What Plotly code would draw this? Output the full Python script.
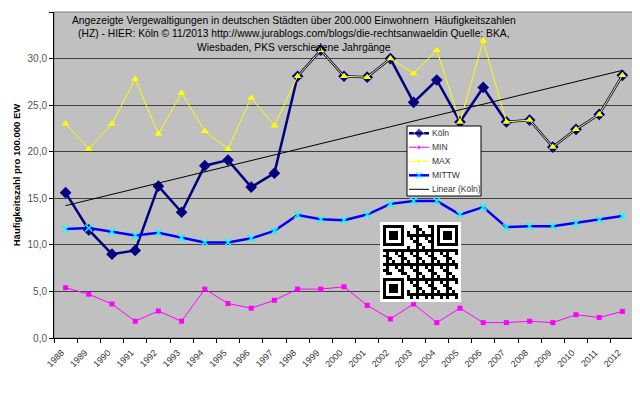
import numpy as np
import plotly.graph_objects as go

years = [str(y) for y in range(1988, 2013)]
koeln = [15.6, 11.6, 9.0, 9.4, 16.3, 13.5, 18.5, 19.1, 16.2, 17.7, 28.1, 30.9, 28.1,
         28.0, 30.0, 25.3, 27.7, 23.2, 26.9, 23.2, 23.4, 20.5, 22.4, 24.0, 28.2]
mn = [5.4, 4.7, 3.65, 1.8, 2.9, 1.8, 5.25, 3.7, 3.2, 4.05, 5.25, 5.25, 5.5,
      3.5, 2.05, 3.65, 1.65, 3.2, 1.65, 1.65, 1.8, 1.65, 2.5, 2.2, 2.85]
mx = [23.0, 20.3, 23.0, 27.8, 21.9, 26.3, 22.2, 20.3, 25.8, 22.8, 28.1, 30.9, 28.1,
      28.0, 30.0, 28.4, 30.9, 23.2, 31.9, 23.2, 23.4, 20.5, 22.4, 24.0, 28.2]
mittw = [11.7, 11.8, 11.4, 11.0, 11.3, 10.75, 10.25, 10.25, 10.7, 11.5, 13.2, 12.75, 12.65,
         13.25, 14.4, 14.7, 14.7, 13.25, 14.05, 11.9, 12.0, 12.0, 12.35, 12.7, 13.1]

series_names = ["Köln", "MIN", "MAX", "MITTW", "Linear (Köln)"]

title_text = ("Angezeigte Vergewaltigungen in deutschen Städten über 200.000 Einwohnern  Häufigkeitszahlen<br>"
              "(HZ) - HIER: Köln © 11/2013 http://www.jurablogs.com/blogs/die-rechtsanwaeldin Quelle: BKA,<br>"
              "Wiesbaden, PKS verschiedene Jahrgänge")
y_title = "Häufigkeitszahl pro 100.000 EW"

# linear trend of Köln
idx = np.arange(1, len(koeln) + 1)
slope, icpt = np.polyfit(idx, koeln, 1)
trend = list(slope * idx + icpt)

FONT = "Arial, Liberation Sans, sans-serif"

styles = [
    dict(line=dict(color="#000080", width=2.5),
         marker=dict(symbol="diamond", size=9, color="#000080"), mode="lines+markers"),
    dict(line=dict(color="#ff00ff", width=1),
         marker=dict(symbol="square", size=5, color="#ff00ff"), mode="lines+markers"),
    dict(line=dict(color="#ffff00", width=1),
         marker=dict(symbol="triangle-up", size=7, color="#ffff00"), mode="lines+markers"),
    dict(line=dict(color="#0000ff", width=2.5),
         marker=dict(symbol="x-thin", size=7, color="#00ffff",
                     line=dict(color="#00ffff", width=1.5)), mode="lines+markers"),
    dict(line=dict(color="#000000", width=1), marker=None, mode="lines"),
]

fig = go.Figure()
for name, vals, st in zip(series_names, [koeln, mn, mx, mittw, trend], styles):
    kw = dict(x=years, y=vals, name=name, mode=st["mode"], line=st["line"], showlegend=False)
    if st["marker"] is not None:
        kw["marker"] = st["marker"]
    fig.add_trace(go.Scatter(**kw))

# QR-like decorative block
n = 25
qr = np.zeros((n, n))
for i in range(n):
    for j in range(n):
        qr[i, j] = 1 if ((i * 7 + j * 11 + i * j * 3) % 5) < 2 else 0
def finder(r, c):
    for i in range(7):
        for j in range(7):
            edge = i in (0, 6) or j in (0, 6)
            core = 2 <= i <= 4 and 2 <= j <= 4
            qr[r + i, c + j] = 1 if (edge or core) else 0
    for k in range(-1, 8):
        for (a, b) in ((r - 1, c + k), (r + 7, c + k), (r + k, c - 1), (r + k, c + 7)):
            if 0 <= a < n and 0 <= b < n:
                qr[a, b] = 0
finder(0, 0)
finder(0, n - 7)
finder(n - 7, 0)
qr_pad = np.zeros((n + 2, n + 2))
qr_pad[1:-1, 1:-1] = qr
fig.add_trace(go.Heatmap(z=qr_pad[::-1], xaxis="x2", yaxis="y2", showscale=False,
                         colorscale=[[0, "#ffffff"], [1, "#000000"]], hoverinfo="skip",
                         showlegend=False))

# custom legend (overlay axes in page-pixel units of the plot area)
LX0, LX1, LY0, LY1 = 407, 481, 126, 196
fig.add_trace(go.Scatter(x=[LX0, LX1, LX1, LX0, LX0], y=[LY0, LY0, LY1, LY1, LY0],
                         xaxis="x3", yaxis="y3", mode="lines", fill="toself",
                         fillcolor="#ffffff", line=dict(color="#000000", width=1),
                         hoverinfo="skip", showlegend=False))
annotations = []
for i, (name, st) in enumerate(zip(series_names, styles)):
    yc = LY0 + 7.3 + 14 * i
    kw = dict(x=[409, 419, 429], y=[yc, yc, yc], xaxis="x3", yaxis="y3",
              mode=st["mode"], line=st["line"], hoverinfo="skip", showlegend=False)
    if st["marker"] is not None:
        m = dict(st["marker"])
        m["size"] = [0, m["size"] - 1, 0]
        kw["marker"] = m
    fig.add_trace(go.Scatter(**kw))
    annotations.append(dict(text=name, xref="x3", yref="y3", x=430, y=yc,
                            xanchor="left", yanchor="middle", showarrow=False,
                            font=dict(size=8.5, color="#333333", family=FONT)))

annotations.append(dict(text=title_text, xref="paper", yref="paper", x=0.414, y=0.997,
                        xanchor="center", yanchor="top", showarrow=False, align="center",
                        font=dict(size=10.3, color="#000000", family=FONT)))

# page has an 8px body margin: figure is 632x390 so plot area lands at x 54..634, y 12..338
fig.update_layout(
    width=632, height=390,
    margin=dict(l=46, r=6, t=4, b=60),
    paper_bgcolor="#ffffff", plot_bgcolor="#c0c0c0",
    separators=",.",
    font=dict(family=FONT, size=10, color="#000000"),
    showlegend=False,
    xaxis=dict(type="category", showgrid=False, tickangle=-45, automargin=False,
               ticks="outside", ticklen=4, tickson="boundaries", tickcolor="#000000",
               showline=True, linecolor="#000000", linewidth=1,
               ticklabelstandoff=5, ticklabelshift=-4,
               tickfont=dict(size=9, color="#333333"), domain=[0, 1],
               range=[-0.5, 24.5]),
    yaxis=dict(range=[0, 35], dtick=5, tickformat=".1f", automargin=False,
               showgrid=True, gridcolor="#404040", gridwidth=1,
               ticks="outside", ticklen=4, tickcolor="#000000",
               showline=True, linecolor="#000000", linewidth=1,
               zeroline=False,
               tickfont=dict(size=10, color="#555555"),
               title=dict(text="<b>" + y_title + "</b>", font=dict(size=9.5, color="#000000"),
                          standoff=5)),
    xaxis2=dict(domain=[0.562, 0.702], anchor="y2", visible=False, showgrid=False,
                zeroline=False),
    yaxis2=dict(domain=[0.110, 0.356], anchor="x2", visible=False, showgrid=False,
                zeroline=False),
    xaxis3=dict(overlaying="x", range=[54, 634], visible=False, showgrid=False,
                zeroline=False, anchor="y3"),
    yaxis3=dict(overlaying="y", range=[338, 12], visible=False, showgrid=False,
                zeroline=False, anchor="x3"),
    shapes=[dict(type="rect", xref="paper", yref="paper", x0=0, x1=1, y0=0, y1=1,
                 line=dict(color="#808080", width=1), fillcolor="rgba(0,0,0,0)", layer="below")],
    annotations=annotations,
)

fig.write_html("out.html")
